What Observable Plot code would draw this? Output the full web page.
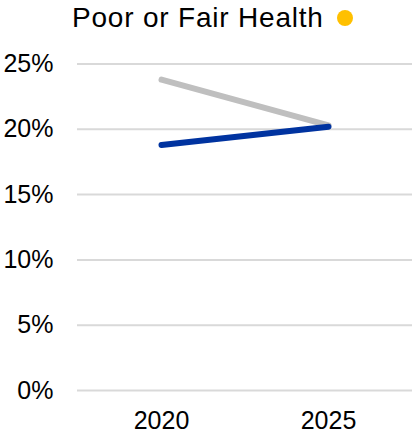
<!DOCTYPE html>
<html>
<head>
<meta charset="utf-8">
<script src="https://cdn.jsdelivr.net/npm/d3@7"></script>
<script src="https://cdn.jsdelivr.net/npm/@observablehq/plot@0.6"></script>
<style>
  html, body { margin: 0; padding: 0; background: #fff; }
  body { width: 412px; height: 434px; overflow: hidden; font-family: "Liberation Sans", Arial, sans-serif; }
  #title { position: relative; height: 40px; }
  #title .t { position: absolute; left: 72px; top: 4px; font-size: 28px; letter-spacing: 0.8px; line-height: 28px; color: #000; white-space: nowrap; }
  #title .dot { position: absolute; left: 337px; top: 10px; width: 16px; height: 16px; border-radius: 50%; background: #ffc000; }
</style>
</head>
<body>
<div id="title"><span class="t">Poor or Fair Health</span><span class="dot"></span></div>
<div id="chart"></div>
<script>
const years = ["2020", "2025"];
const benchmark = [23.8, 20.3];   // gray series
const current = [18.8, 20.2];     // blue series
const yTicks = [0, 5, 10, 15, 20, 25];

const rows = [
  ...years.map((y, i) => ({year: y, value: benchmark[i], series: "benchmark"})),
  ...years.map((y, i) => ({year: y, value: current[i], series: "current"}))
];

const chart = Plot.plot({
  width: 412,
  height: 394,
  marginTop: 23.5,
  marginBottom: 44,
  marginLeft: 77,
  marginRight: 0,
  style: {fontFamily: "'Liberation Sans', Arial, sans-serif", fontSize: "25px", color: "#000", background: "#fff"},
  x: {type: "point", domain: years, padding: 0.5},
  y: {domain: [0, 25]},
  marks: [
    Plot.gridY(yTicks, {stroke: "#d9d9d9", strokeOpacity: 1, strokeWidth: 2}),
    Plot.axisY(yTicks, {tickSize: 0, tickPadding: 24, tickFormat: d => d + "%", label: null, fontSize: 25}),
    Plot.axisX({tickSize: 0, tickPadding: 21, label: null, fontSize: 25}),
    Plot.line(rows.filter(d => d.series === "benchmark"), {x: "year", y: "value", stroke: "#bfbfbf", strokeWidth: 6, strokeLinecap: "round"}),
    Plot.line(rows.filter(d => d.series === "current"), {x: "year", y: "value", stroke: "#0033a0", strokeWidth: 6, strokeLinecap: "round"})
  ]
});
document.getElementById("chart").appendChild(chart);
</script>
</body>
</html>
